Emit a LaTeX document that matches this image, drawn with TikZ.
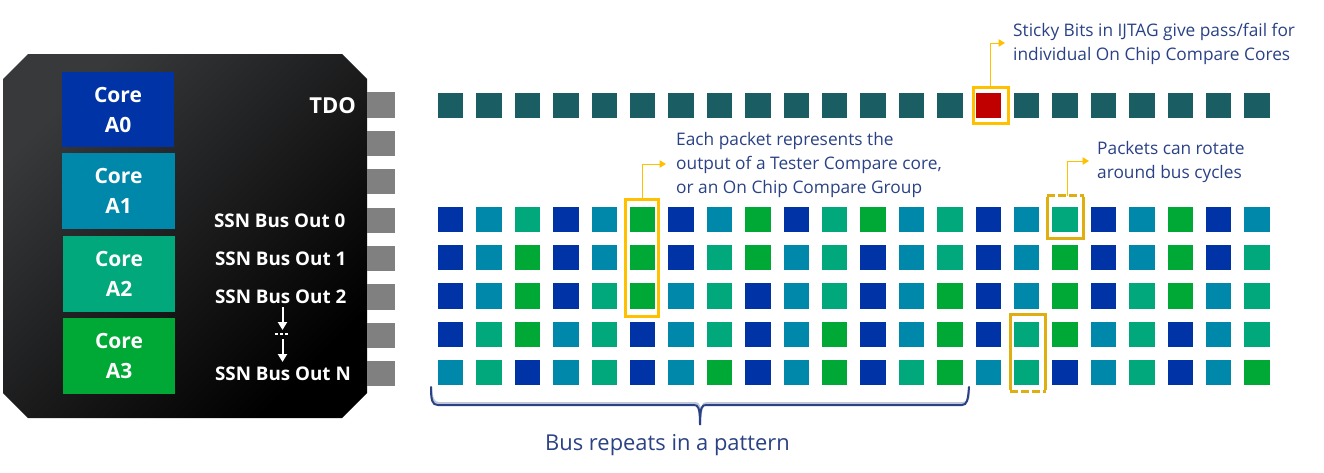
\documentclass[tikz,border=0pt]{standalone}
\usepackage{fontspec}
\setmainfont{Open Sans}
\usetikzlibrary{arrows.meta,calc}
\definecolor{cB}{HTML}{0033A6}
\definecolor{cT}{HTML}{0088AA}
\definecolor{cS}{HTML}{00A87B}
\definecolor{cG}{HTML}{00A935}
\definecolor{cD}{HTML}{1A5E63}
\definecolor{cR}{HTML}{C00000}
\definecolor{cO}{HTML}{FFC000}
\definecolor{cOd}{HTML}{DFAE10}
\definecolor{cTxt}{HTML}{2A4285}
\definecolor{cPin}{HTML}{808080}
\definecolor{chipA}{HTML}{38393B}
\definecolor{chipB}{HTML}{28282A}
\definecolor{chipC}{HTML}{000000}
\tikzset{
  pkt/.style={rectangle,inner sep=0pt,minimum width=25.4pt,minimum height=25.4pt,fill=#1},
  pin/.style={rectangle,inner sep=0pt,minimum width=28pt,minimum height=25.4pt,fill=cPin},
  core/.style={rectangle,inner sep=0pt,fill=#1,text=white,align=center,font=\fontsize{21}{30}\selectfont\bfseries},
  buslabel/.style={inner sep=0pt,text=white,anchor=east,font=\fontsize{18.8}{20}\selectfont\bfseries},
  note/.style={inner sep=0pt,text=cTxt,anchor=west,align=left,font=\fontsize{17.3}{24}\selectfont},
  hilite/.style={rectangle,inner sep=0pt,draw=cO,line width=3pt},
  softbox/.style={rectangle,inner sep=0pt},
  softedge/.style={draw=cOd,line width=3pt},
  callout/.style={draw=cO,line width=1pt,-{Triangle[length=6.5pt,width=7.5pt,fill=cO]}},
  whitearrow/.style={draw=white,line width=2pt,-{Triangle[length=8pt,width=9pt,fill=white]}},
}
\begin{document}
\begin{tikzpicture}[x=1pt,y=-1pt]
\useasboundingbox (0,0) rectangle (1324,472);
% chip
\shade[left color=chipA,middle color=chipB,right color=chipC,shading angle=45]
  (28,54) -- (342,54) -- (367,79) -- (367,393) -- (342,418) -- (28,418) -- (3,393) -- (3,79) -- cycle;
% pins
\foreach \n/\y in {0/105,1/143.5,2/181.5,3/220.5,4/258.5,5/297,6/335.5,7/373.5}
  \node[pin] (pin\n) at (381,\y) {};
% cores
\node[core=cB,minimum width=112pt,minimum height=75pt] (core0) at (118,109.5) {Core\\A0};
\node[core=cT,minimum width=113pt,minimum height=76pt] (core1) at (118.5,191) {Core\\A1};
\node[core=cS,minimum width=112pt,minimum height=76pt] (core2) at (119,274) {Core\\A2};
\node[core=cG,minimum width=112pt,minimum height=76pt] (core3) at (119,356) {Core\\A3};
% labels
\node[inner sep=0pt,text=white,anchor=east,font=\fontsize{22}{24}\selectfont\bfseries] (tdo) at (356,106) {TDO};
\node[buslabel] (b0) at (345.5,221) {SSN Bus Out 0};
\node[buslabel] (b1) at (346.5,259) {SSN Bus Out 1};
\node[buslabel] (b2) at (346.5,297) {SSN Bus Out 2};
\node[buslabel] (bn) at (351,374) {SSN Bus Out N};
\coordinate (a1s) at (282.5,307);
\coordinate (a1e) at (282.5,330);
\coordinate (a2s) at (282.5,339);
\coordinate (a2e) at (282.5,362);
\draw[whitearrow] (a1s) -- (a1e);
\draw[whitearrow] (a2s) -- (a2e);
\foreach \x in {276.5,281.5,286.5} \fill[white] (\x-1.2,332.8) rectangle (\x+1.2,335.2);
% top row
\foreach \i in {0,...,21}{
  \pgfmathsetmacro{\px}{450.7+38.4*\i}
  \ifnum\i=14
    \node[pkt=cR] (t\i) at (\px,105.5) {};
  \else
    \node[pkt=cD] (t\i) at (\px,105.5) {};
  \fi
}
% grid
\foreach \r/\y/\cols in {
 0/219.5/{B,T,S,B,T,G,B,T,G,B,S,G,T,S,B,T,S,B,T,G,B,T},
 1/257.5/{B,T,G,B,T,G,B,S,G,T,S,B,T,S,B,T,G,B,T,G,B,S},
 2/296/{B,T,G,B,S,G,T,S,B,T,S,B,T,G,B,T,G,B,S,G,T,S},
 3/334.5/{B,S,G,T,S,B,T,S,B,T,G,B,T,G,B,S,G,T,S,B,T,S},
 4/372.5/{T,S,B,T,S,B,T,G,B,T,G,B,S,G,T,S,B,T,S,B,T,G}}{
  \foreach \c [count=\k from 0] in \cols {
    \pgfmathsetmacro{\px}{450.7+38.4*\k}
    \node[pkt=c\c] (g\r-\k) at (\px,\y) {};
  }
}
% highlight boxes
\node[hilite,minimum width=35pt,minimum height=36pt] (hred) at (990.5,105.5) {};
\node[hilite,minimum width=33.5pt,minimum height=117pt] (hcol) at (642,257.5) {};
\node[softbox,minimum width=36pt,minimum height=42pt] (hrot) at (1065.5,217) {};
\node[softbox,minimum width=35pt,minimum height=77pt] (hrot2) at (1028,353) {};
\draw[softedge] ([yshift=-1.5pt]hrot.north west) -- (hrot.south west) -- (hrot.south east) -- ([yshift=-1.5pt]hrot.north east);
\draw[softedge,dash pattern=on 8pt off 3pt] (hrot.north west) -- (hrot.north east);
\draw[softedge] ([yshift=1.5pt]hrot2.south west) -- (hrot2.north west) -- (hrot2.north east) -- ([yshift=1.5pt]hrot2.south east);
\draw[softedge,dash pattern=on 8pt off 3pt] (hrot2.south west) -- (hrot2.south east);
% notes
\node[note] (n1) at (1013,44) {Sticky Bits in IJTAG give pass/fail for\\individual On Chip Compare Cores};
\node[note] (n2) at (676,165) {Each packet represents the\\output of a Tester Compare core,\\or an On Chip Compare Group};
\node[note] (n3) at (1097,162) {Packets can rotate\\around bus cycles};
\coordinate (n1tip) at (1005,43);
\coordinate (n2tip) at (666,164);
\coordinate (n3tip) at (1089,161);
\draw[callout] (hred.north) |- (n1tip);
\draw[callout] (hcol.north) |- (n2tip);
\draw[callout] ([xshift=1.5pt]hrot.north) |- (n3tip);
% brace
\coordinate (bl) at (431,387);
\coordinate (br) at (969,387);
\coordinate (bt) at (700,425);
\draw[draw=cTxt!30,line width=2pt,line cap=round,shift={(1pt,2pt)}]
  (bl) .. controls (431,400) and (432,405) .. (438,405) -- (694,405)
  .. controls (698,405) and (700,407) .. (bt)
  .. controls (700,407) and (702,405) .. (706,405) -- (962,405)
  .. controls (967,405) and (968,400) .. (br);
\draw[draw=cTxt,line width=2pt,line cap=round]
  (bl) .. controls (431,400) and (432,405) .. (438,405) -- (694,405)
  .. controls (698,405) and (700,407) .. (bt)
  .. controls (700,407) and (702,405) .. (706,405) -- (962,405)
  .. controls (967,405) and (968,400) .. (br);
\node[inner sep=0pt,text=cTxt,font=\fontsize{21.9}{24}\selectfont] (brlab) at (667.5,445) {Bus repeats in a pattern};
\end{tikzpicture}
\end{document}
